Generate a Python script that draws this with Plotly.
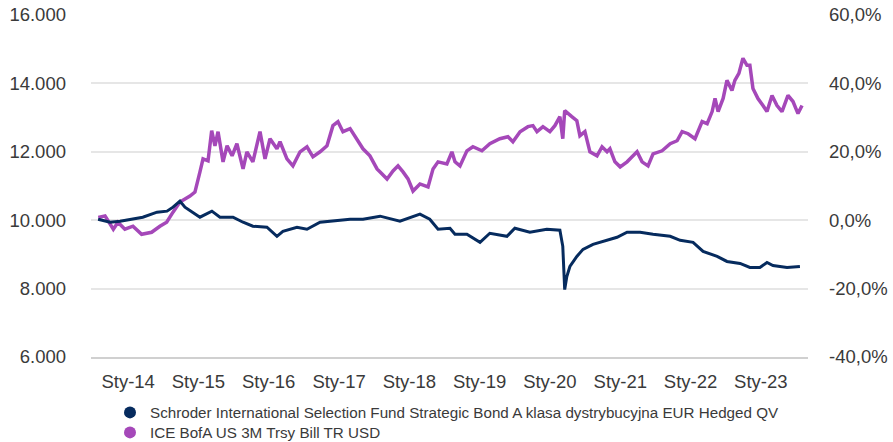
import plotly.graph_objects as go

# ---- data ----
fund_name = "Schroder International Selection Fund Strategic Bond A klasa dystrybucyjna EUR Hedged QV"
bench_name = "ICE BofA US 3M Trsy Bill TR USD"

fund_dates = [
    "2013-07-29", "2013-09-29", "2013-11-20", "2014-01-11", "2014-03-18", "2014-05-31",
    "2014-07-22", "2014-08-22", "2014-09-27", "2014-10-23", "2014-11-28", "2015-01-09",
    "2015-03-12", "2015-04-23", "2015-06-30", "2015-08-21", "2015-10-11", "2015-12-23",
    "2016-02-13", "2016-03-15", "2016-05-27", "2016-07-18", "2016-09-24", "2016-11-30",
    "2017-02-27", "2017-05-05", "2017-08-02", "2017-11-13", "2018-02-25", "2018-04-17",
    "2018-05-30", "2018-07-31", "2018-08-26", "2018-10-27", "2019-01-03", "2019-02-23",
    "2019-05-23", "2019-07-03", "2019-09-19", "2019-12-16", "2020-02-22", "2020-03-08",
    "2020-03-18", "2020-03-29", "2020-04-14", "2020-05-20", "2020-06-21", "2020-08-12",
    "2020-10-03", "2020-12-15", "2021-02-05", "2021-04-14", "2021-06-20", "2021-09-17",
    "2021-11-08", "2022-01-14", "2022-03-07", "2022-05-19", "2022-07-09", "2022-09-15",
    "2022-11-05", "2022-12-27", "2023-02-02", "2023-03-05", "2023-05-17", "2023-07-23",
]
fund_values = [
    10029, 9941, 9971, 10029, 10088, 10235,
    10265, 10382, 10559, 10382, 10235, 10088,
    10265, 10088, 10088, 9941, 9824, 9794,
    9529, 9676, 9794, 9735, 9941, 9971,
    10029, 10029, 10118, 9971, 10176, 10029,
    9735, 9765, 9588, 9588, 9353, 9618,
    9529, 9765, 9647, 9735, 9706, 9235,
    7971, 8353, 8647, 8941, 9147, 9294,
    9382, 9500, 9647, 9647, 9588, 9529,
    9412, 9353, 9088, 8941, 8794, 8735,
    8618, 8618, 8765, 8676, 8618, 8647,
]

bench_dates = [
    "2013-07-30", "2013-09-03", "2013-10-16", "2013-11-09", "2013-12-15", "2014-01-26",
    "2014-03-12", "2014-05-03", "2014-06-15", "2014-07-20", "2014-08-22", "2014-09-27",
    "2014-11-18", "2014-12-14", "2015-01-09", "2015-01-25", "2015-02-20", "2015-03-11",
    "2015-03-28", "2015-04-13", "2015-05-09", "2015-05-30", "2015-06-25", "2015-07-20",
    "2015-08-21", "2015-09-10", "2015-10-11", "2015-11-17", "2015-12-13", "2016-01-08",
    "2016-02-13", "2016-02-29", "2016-04-05", "2016-05-06", "2016-06-12", "2016-07-18",
    "2016-08-18", "2016-09-24", "2016-10-30", "2016-11-30", "2016-12-26", "2017-01-21",
    "2017-02-27", "2017-04-04", "2017-05-05", "2017-06-10", "2017-07-17", "2017-08-02",
    "2017-09-07", "2017-10-08", "2017-11-03", "2017-11-29", "2017-12-25", "2018-01-20",
    "2018-02-25", "2018-04-08", "2018-05-04", "2018-05-30", "2018-07-15", "2018-08-10",
    "2018-08-26", "2018-09-21", "2018-10-27", "2018-11-27", "2019-01-13", "2019-02-23",
    "2019-04-16", "2019-05-28", "2019-06-23", "2019-07-30", "2019-09-09", "2019-10-05",
    "2019-10-26", "2019-11-26", "2020-01-01", "2020-01-27", "2020-02-22", "2020-03-08",
    "2020-03-18", "2020-04-24", "2020-05-20", "2020-06-05", "2020-07-01", "2020-07-27",
    "2020-09-02", "2020-09-28", "2020-10-24", "2020-11-08", "2020-12-04", "2020-12-31",
    "2021-02-05", "2021-03-03", "2021-03-29", "2021-04-24", "2021-05-25", "2021-06-20",
    "2021-08-06", "2021-09-17", "2021-10-23", "2021-11-18", "2021-12-19", "2022-01-24",
    "2022-03-02", "2022-03-28", "2022-04-23", "2022-05-08", "2022-05-24", "2022-06-19",
    "2022-07-09", "2022-08-04", "2022-08-19", "2022-09-09", "2022-09-30", "2022-10-21",
    "2022-11-05", "2022-11-21", "2022-12-17", "2023-01-12", "2023-02-02", "2023-02-28",
    "2023-03-26", "2023-04-21", "2023-05-22", "2023-06-17", "2023-07-13", "2023-08-03",
]
bench_values = [
    10079, 10126, 9735, 9941, 9735, 9824,
    9588, 9647, 9824, 9941, 10235, 10529,
    10706, 10823, 11412, 11794, 11735, 12617,
    12176, 12588, 11706, 12176, 11882, 12235,
    11500, 12000, 11706, 12588, 11794, 12382,
    12088, 12294, 11794, 11588, 12000, 12147,
    11853, 12000, 12176, 12765, 12882, 12588,
    12676, 12382, 12088, 11882, 11500, 11412,
    11206, 11441, 11588, 11412, 11206, 10853,
    11059, 10971, 11500, 11706, 11647, 12000,
    11706, 11588, 12029, 12147, 12029, 12235,
    12382, 12441, 12294, 12588, 12735, 12765,
    12588, 12735, 12588, 12765, 13029, 12382,
    13206, 13029, 12912, 12470, 12588, 12000,
    11882, 12147, 12000, 12088, 11706, 11559,
    11706, 11853, 12000, 11706, 11588, 11941,
    12029, 12235, 12323, 12588, 12529, 12382,
    12882, 12823, 13176, 13559, 13176, 13559,
    14088, 13794, 14088, 14294, 14735, 14529,
    14529, 13853, 13559, 13353, 13176, 13647,
    13353, 13176, 13647, 13470, 13118, 13353,
]

x_tick_vals = ["2014-01-01", "2015-01-01", "2016-01-01", "2017-01-01", "2018-01-01",
               "2019-01-01", "2020-01-01", "2021-01-01", "2022-01-01", "2023-01-01"]
x_tick_text = ["Sty-14", "Sty-15", "Sty-16", "Sty-17", "Sty-18",
               "Sty-19", "Sty-20", "Sty-21", "Sty-22", "Sty-23"]
y_tick_vals = [6000, 8000, 10000, 12000, 14000, 16000]
y_tick_text = ["6.000", "8.000", "10.000", "12.000", "14.000", "16.000"]
y2_tick_vals = [-40, -20, 0, 20, 40, 60]
y2_tick_text = ["-40,0%", "-20,0%", "0,0%", "20,0%", "40,0%", "60,0%"]

NAVY = "#062b5e"
PURPLE = "#a548b9"
FONT = "Liberation Sans, Arial, sans-serif"
TXT = "#3a3a3a"
TICK_SIZE = 18.5

fig = go.Figure()
fig.add_trace(go.Scatter(x=bench_dates, y=bench_values, mode="lines",
                         line=dict(color=PURPLE, width=3.5), showlegend=False,
                         hoverinfo="x+y"))
fig.add_trace(go.Scatter(x=fund_dates, y=fund_values, mode="lines",
                         line=dict(color=NAVY, width=3), showlegend=False,
                         hoverinfo="x+y"))
# legend entries (circle markers); their single point is hidden via 'unselected'
fig.add_trace(go.Scatter(x=[fund_dates[0]], y=[fund_values[0]], mode="markers", name=fund_name,
                         marker=dict(color=NAVY, size=15, symbol="circle", line=dict(width=0)),
                         hoverinfo="skip", legend="legend",
                         selectedpoints=[], unselected=dict(marker=dict(opacity=0))))
fig.add_trace(go.Scatter(x=[bench_dates[0]], y=[bench_values[0]], mode="markers", name=bench_name,
                         marker=dict(color=PURPLE, size=15, symbol="circle", line=dict(width=0)),
                         hoverinfo="skip", legend="legend2",
                         selectedpoints=[], unselected=dict(marker=dict(opacity=0))))
# right axis carrier
fig.add_trace(go.Scatter(x=[fund_dates[0]], y=[0], yaxis="y2", mode="markers",
                         marker=dict(opacity=0), showlegend=False, hoverinfo="skip"))

legend_common = dict(
    xref="container", yref="container", xanchor="left", yanchor="top",
    orientation="v", font=dict(size=15.2, color=TXT, family=FONT),
    bgcolor="rgba(0,0,0,0)", itemsizing="constant",
)

fig.update_layout(
    width=893, height=442,
    margin=dict(l=91, r=85, t=15, b=85, autoexpand=False),
    paper_bgcolor="white", plot_bgcolor="white",
    font=dict(family=FONT, color=TXT, size=TICK_SIZE),
    xaxis=dict(
        type="date", range=["2013-06-22", "2023-09-03"],
        tickvals=x_tick_vals, ticktext=x_tick_text,
        showgrid=False, zeroline=False,
        showline=True, linecolor="#d0d0d0", linewidth=2,
        ticks="", ticklabelstandoff=7,
        tickfont=dict(size=TICK_SIZE, color=TXT),
    ),
    yaxis=dict(
        range=[6000, 16000], tickvals=y_tick_vals, ticktext=y_tick_text,
        showgrid=True, gridcolor="#e6e6e6", gridwidth=2,
        zeroline=False, showline=False, ticks="", ticklabelstandoff=24,
        tickfont=dict(size=TICK_SIZE, color=TXT),
    ),
    yaxis2=dict(
        overlaying="y", side="right",
        range=[-40, 60], tickvals=y2_tick_vals, ticktext=y2_tick_text,
        showgrid=False, zeroline=False, showline=False, ticks="",
        ticklabelstandoff=20,
        tickfont=dict(size=TICK_SIZE, color=TXT),
    ),
    legend=dict(x=110 / 893, y=1 - 396 / 442, **legend_common),
    legend2=dict(x=110 / 893, y=1 - 416 / 442, **legend_common),
    showlegend=True,
)

fig.write_html("out.html", config={"displayModeBar": False},
               post_script="document.body.style.margin='0';")
